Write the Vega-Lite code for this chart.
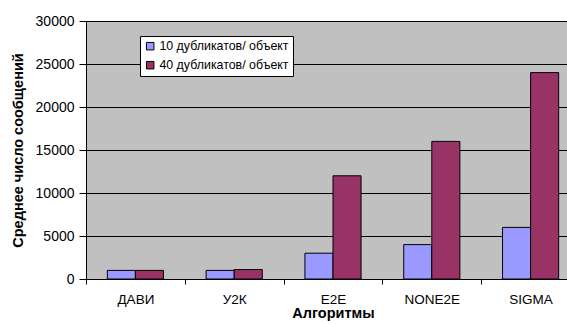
{
  "$schema": "https://vega.github.io/schema/vega-lite/v6.json",
  "autosize": "none",
  "padding": {"left": 86, "top": 21, "right": 0, "bottom": 44},
  "width": 494,
  "height": 258,
  "background": "white",
  "config": {
    "font": "Liberation Sans",
    "view": {"fill": "#C0C0C0", "stroke": "#808080", "strokeWidth": 1}
  },
  "data": {
    "values": [
      {"alg": "ДАВИ", "series": "10 дубликатов/ объект", "value": 1000},
      {"alg": "ДАВИ", "series": "40 дубликатов/ объект", "value": 1000},
      {"alg": "У2К", "series": "10 дубликатов/ объект", "value": 1000},
      {"alg": "У2К", "series": "40 дубликатов/ объект", "value": 1100},
      {"alg": "E2E", "series": "10 дубликатов/ объект", "value": 3000},
      {"alg": "E2E", "series": "40 дубликатов/ объект", "value": 12000},
      {"alg": "NONE2E", "series": "10 дубликатов/ объект", "value": 4000},
      {"alg": "NONE2E", "series": "40 дубликатов/ объект", "value": 16000},
      {"alg": "SIGMA", "series": "10 дубликатов/ объект", "value": 6000},
      {"alg": "SIGMA", "series": "40 дубликатов/ объект", "value": 24000}
    ]
  },
  "mark": {"type": "bar", "stroke": "black", "strokeWidth": 1},
  "encoding": {
    "x": {
      "field": "alg",
      "type": "nominal",
      "sort": ["ДАВИ", "У2К", "E2E", "NONE2E", "SIGMA"],
      "scale": {"paddingInner": 0, "paddingOuter": 0},
      "axis": {
        "title": "Алгоритмы",
        "titleFont": "Liberation Sans",
        "titleFontSize": 14.5,
        "titleFontWeight": "bold",
        "titleColor": "black",
        "titlePadding": 1,
        "labelAngle": 0,
        "labelFontSize": 13.5,
        "labelColor": "black",
        "labelPadding": 8,
        "tickBand": "extent",
        "tickColor": "black",
        "tickSize": 5,
        "domainColor": "black",
        "grid": false
      }
    },
    "xOffset": {
      "field": "series",
      "type": "nominal",
      "scale": {"paddingInner": 0, "paddingOuter": 0.76}
    },
    "y": {
      "field": "value",
      "type": "quantitative",
      "scale": {"domain": [0, 30000], "nice": false},
      "axis": {
        "title": "Среднее число сообщений",
        "titleFont": "Liberation Sans",
        "titleFontSize": 14.5,
        "titleFontWeight": "bold",
        "titleColor": "black",
        "titlePadding": 10,
        "values": [0, 5000, 10000, 15000, 20000, 25000, 30000],
        "format": "d",
        "labelFontSize": 14,
        "labelColor": "black",
        "labelPadding": 5,
        "tickColor": "black",
        "tickSize": 7,
        "domainColor": "black",
        "grid": true,
        "gridColor": "black",
        "gridOpacity": 1
      }
    },
    "color": {
      "field": "series",
      "type": "nominal",
      "scale": {"range": ["#9999FF", "#993366"]},
      "legend": {
        "title": null,
        "orient": "none",
        "legendX": 54,
        "legendY": 15,
        "fillColor": "white",
        "strokeColor": "black",
        "padding": 4,
        "labelFontSize": 12.4,
        "labelColor": "black",
        "symbolType": "square",
        "symbolSize": 56,
        "symbolStrokeColor": "black",
        "symbolStrokeWidth": 1,
        "symbolOpacity": 1,
        "rowPadding": 6,
        "labelOffset": 3
      }
    }
  }
}
